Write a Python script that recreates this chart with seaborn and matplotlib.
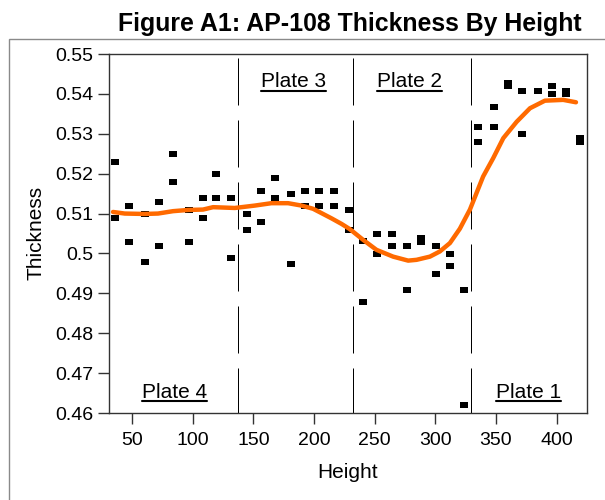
import matplotlib
matplotlib.use("Agg")
import matplotlib.pyplot as plt
from matplotlib.patches import Rectangle
from matplotlib.lines import Line2D
import seaborn as sns
import pandas as pd

# Measured thickness at each height (two readings per station)
height = [35.8, 35.8, 47.5, 47.5, 60.7, 60.7, 72.2, 72.2, 83.8, 83.8,
          97.0, 97.0, 108.5, 108.5, 119.6, 119.6, 131.4, 131.4,
          144.6, 144.6, 156.1, 156.1, 167.7, 167.7, 180.9, 180.9,
          192.4, 192.4, 203.9, 203.9, 216.6, 216.6, 228.7, 228.7,
          240.0, 240.0, 251.5, 251.5, 264.4, 264.4, 276.3, 276.3,
          287.8, 287.8, 300.4, 300.4, 312.0, 312.0, 323.8, 323.8,
          335.3, 335.3, 348.5, 348.5, 360.0, 360.0, 371.6, 371.6,
          384.5, 384.5, 396.0, 396.0, 407.6, 407.6, 419.2, 419.2]
thickness = [0.5229, 0.5088, 0.5119, 0.5029, 0.5099, 0.4979, 0.5128, 0.5019,
             0.5249, 0.5178, 0.5109, 0.5029, 0.5139, 0.5089, 0.5198, 0.5139,
             0.5139, 0.4989,
             0.5099, 0.5059, 0.5157, 0.5079, 0.5189, 0.5138, 0.5148, 0.4974,
             0.5157, 0.5118, 0.5157, 0.5119, 0.5157, 0.5119, 0.5109, 0.5059,
             0.5030, 0.4879, 0.5049, 0.4999, 0.5049, 0.5019, 0.5019, 0.4909,
             0.5038, 0.5028, 0.5019, 0.4949, 0.4999, 0.4969, 0.4909, 0.4620,
             0.5318, 0.5279, 0.5368, 0.5318, 0.5428, 0.5420, 0.5408, 0.5299,
             0.5408, 0.5408, 0.5420, 0.5399, 0.5408, 0.5399, 0.5289, 0.5279]

# Smoothed trend through the measurements
trend_height = [34.3, 44.0, 60.0, 71.4, 83.8, 96.2, 108.5, 116.8, 134.7,
                151.2, 164.9, 178.6, 189.7, 199.2, 206.2, 214.4, 222.7,
                229.5, 240.5, 251.5, 265.2, 277.6, 284.5, 295.5, 303.7,
                312.0, 320.2, 328.5, 339.4, 347.7, 356.0, 367.0, 378.0,
                390.3, 405.4, 415.9]
trend_thickness = [0.5104, 0.5100, 0.5099, 0.5100, 0.5106, 0.5109, 0.5110,
                   0.5116, 0.5114, 0.5120, 0.5126, 0.5126, 0.5120, 0.5112,
                   0.5101, 0.5088, 0.5074, 0.5061, 0.5034, 0.5009, 0.4992,
                   0.4982, 0.4984, 0.4992, 0.5005, 0.5026, 0.5062, 0.5110,
                   0.5193, 0.5239, 0.5289, 0.5330, 0.5364, 0.5383, 0.5385,
                   0.5379]

# Plate boundaries and plate labels
plate_bounds = [137.4, 232.2, 329.3]
plate_names = ["Plate 4", "Plate 3", "Plate 2", "Plate 1"]
plate_label_x = [85.2, 183.3, 279.0, 377.1]
plate_label_y = [0.4638, 0.5417, 0.5417, 0.4638]

x_ticks = [50, 100, 150, 200, 250, 300, 350, 400]
y_ticks = [0.46, 0.47, 0.48, 0.49, 0.50, 0.51, 0.52, 0.53, 0.54, 0.55]

sns.set_style("white")
plt.rcParams["font.family"] = ["Liberation Sans", "DejaVu Sans"]
plt.rcParams["text.color"] = "black"

W, H = 605, 500
fig = plt.figure(figsize=(W / 100, H / 100), dpi=100)

# outer frame
fig.add_artist(Rectangle((9 / W, -0.1), 1.2, (H - 39) / H + 0.1,
                         transform=fig.transFigure, fill=False,
                         edgecolor="#8a8a8a", linewidth=1.0))

ax = fig.add_axes([109 / W, (H - 413) / H, (587 - 109) / W, (413 - 54) / H])

pts = pd.DataFrame({"Height": height, "Thickness": thickness})
trend = pd.DataFrame({"Height": trend_height, "Thickness": trend_thickness})

rect_marker = [(-1, -0.75), (1, -0.75), (1, 0.75), (-1, 0.75)]
sns.scatterplot(data=pts, x="Height", y="Thickness", ax=ax, color="black",
                marker=rect_marker, s=28, linewidth=0, zorder=3)
sns.lineplot(data=trend, x="Height", y="Thickness", ax=ax, color="#ff6a00",
             linewidth=3.2, zorder=4, sort=True)

for xb in plate_bounds:
    ax.plot([xb, xb], [0.55, 0.46], color="black", linewidth=0.72,
            linestyle=(58, (47, 15)), zorder=2)

ax.set_xlim(31, 425)
ax.set_ylim(0.46, 0.55)
ax.set_xticks(x_ticks)
ax.set_yticks(y_ticks)
ax.set_yticklabels([f"{v:g}" for v in y_ticks])
ax.tick_params(axis="both", which="both", direction="out", length=8,
               width=1.0, color="#333333", labelsize=14, labelcolor="black",
               bottom=True, left=True, pad=3)
ax.tick_params(axis="x", pad=6)
for sp in ax.spines.values():
    sp.set_color("#333333")
    sp.set_linewidth(1.0)
ax.set_xlabel("")
ax.set_ylabel("")

fig.text(348 / W, 1 - 472 / H, "Height", ha="center", va="center",
         fontsize=15, color="black")
fig.text(36 / W, 1 - 233 / H, "Thickness", ha="center", va="center",
         rotation=90, fontsize=15, color="black")
fig.text(350 / W, 1 - 31 / H, "Figure A1: AP-108 Thickness By Height",
         ha="center", va="baseline", fontsize=17.9, fontweight="bold",
         color="black")

labels = []
for name, lx, ly in zip(plate_names, plate_label_x, plate_label_y):
    labels.append(ax.text(lx, ly, name, ha="center", va="baseline",
                          fontsize=15, color="black", zorder=5))

# underline each plate label
fig.canvas.draw()
renderer = fig.canvas.get_renderer()
for t in labels:
    bb = t.get_window_extent(renderer)
    base_y = ax.transData.transform((0, t.get_position()[1]))[1]
    yline = base_y - 3.5
    fig.add_artist(Line2D([bb.x0 / W, bb.x1 / W], [yline / H, yline / H],
                          transform=fig.transFigure, color="black",
                          linewidth=1.5))

fig.savefig("out.png", dpi=100)
